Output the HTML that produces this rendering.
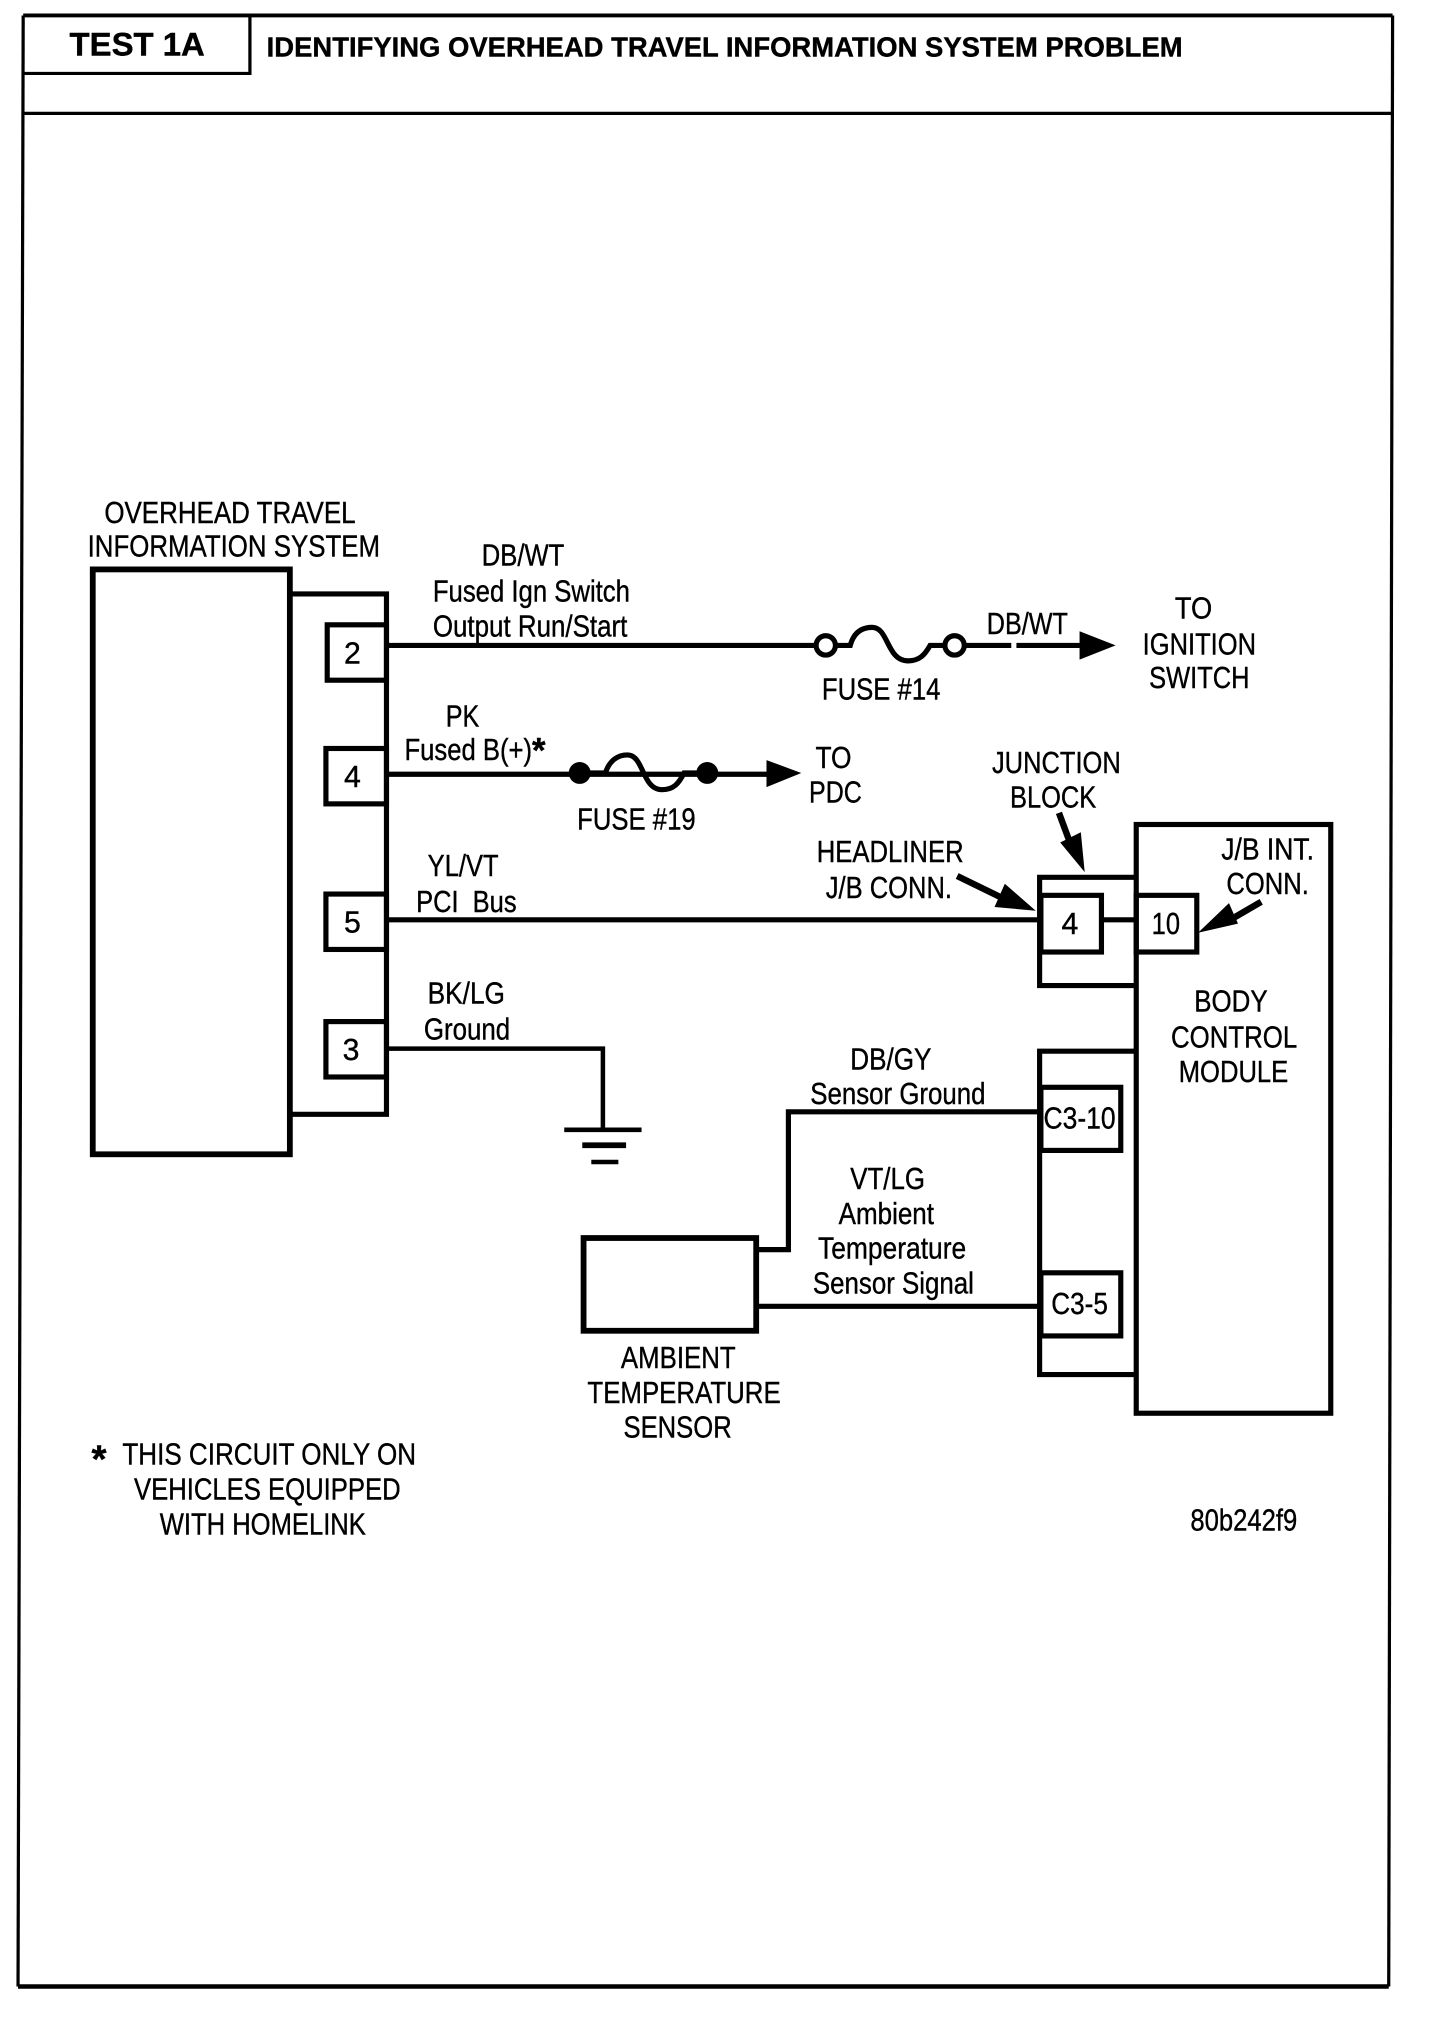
<!DOCTYPE html>
<html><head><meta charset="utf-8"><style>
html,body{margin:0;padding:0;background:#fff}
svg{display:block}
text{font-family:"Liberation Sans",sans-serif;font-size:23.5px;fill:#000;stroke:#000;stroke-width:.3px}
.b{font-weight:bold}
</style></head><body>
<svg width="1440" height="2020" viewBox="0 0 1117.8 1568" preserveAspectRatio="none" xmlns="http://www.w3.org/2000/svg">
<g fill="none" stroke="#000" stroke-width="4">
<path d="M18 12H1081" stroke-width="3"/>
<path d="M18 12L14 1542" stroke-width="2.5"/>
<path d="M1081 12L1078 1542" stroke-width="2.5"/>
<path d="M14 1542H1078" stroke-width="3.5"/>
<path d="M18 88H1081" stroke-width="2.5"/>
<path d="M18 57H194V12" stroke-width="2.5"/>
<rect x="72" y="442" width="153" height="454" stroke-width="4.5"/>
<path d="M225 461H300V865H225"/>
<rect x="254" y="485" width="46" height="43"/>
<rect x="253" y="581" width="47" height="43"/>
<rect x="253" y="694" width="47" height="43"/>
<rect x="253" y="793" width="47" height="43"/>
<path d="M300 501H634M748 501H785M789 501H840"/>
<path d="M649 501H660C663 490 670 487 677 487C690 487 688 513 705 513C714 513 718 508 722 501H733" stroke-width="4"/>
<circle cx="641" cy="501" r="7.5" fill="#fff" stroke-width="4"/>
<circle cx="741" cy="501" r="7.5" fill="#fff" stroke-width="4"/>
<path d="M300 601H600"/>
<path d="M458 600H470C473 590 480 586 487 586C500 586 498 613 514 613C523 613 527 608 531 600H541" stroke-width="4" />
<path d="M300 714H806"/>
<path d="M300 814H468V877" stroke-width="3.5"/>
<path d="M438 877H498" stroke-width="3.5"/>
<path d="M452 889H486" stroke-width="4.5"/>
<path d="M459 902H480" stroke-width="3.5"/>
<rect x="882" y="640" width="151" height="457"/>
<path d="M881 681H807V765H881"/>
<rect x="808" y="695" width="47" height="44"/>
<path d="M855 714H881"/>
<rect x="882" y="695" width="47" height="44"/>
<path d="M881 816H807V1067H881"/>
<rect x="808" y="844" width="62" height="49"/>
<rect x="808" y="988" width="62" height="49"/>
<path d="M807 863H612V970H587"/>
<path d="M587 1014H807"/>
<rect x="453" y="961" width="134" height="72" stroke-width="4.5"/>
<path d="M822 631L832 658" stroke-width="5"/>
<path d="M743 680L780 698" stroke-width="5"/>
<path d="M979 700L955 714" stroke-width="5"/>
</g>
<g fill="#000" stroke="none">
<circle cx="450" cy="600" r="8.5"/>
<circle cx="549" cy="600" r="8.5"/>
<polygon points="838,490 866,501 838,512"/>
<polygon points="595,590 622,600 595,611"/>
<polygon points="823,654 839,646 842,677"/>
<polygon points="780,686 772,704 804,707"/>
<polygon points="954,701 961,717 930,724"/>
</g>
<text class="b" x="54" y="43" textLength="105" lengthAdjust="spacingAndGlyphs" style="font-size:25px">TEST 1A</text>
<text class="b" x="207" y="44" textLength="711" lengthAdjust="spacingAndGlyphs" style="font-size:21.5px">IDENTIFYING OVERHEAD TRAVEL INFORMATION SYSTEM PROBLEM</text>
<text x="81" y="406" textLength="195" lengthAdjust="spacingAndGlyphs">OVERHEAD TRAVEL</text>
<text x="68" y="432" textLength="227" lengthAdjust="spacingAndGlyphs">INFORMATION SYSTEM</text>
<text x="374" y="439" textLength="64" lengthAdjust="spacingAndGlyphs">DB/WT</text>
<text x="336" y="467" textLength="153" lengthAdjust="spacingAndGlyphs">Fused Ign Switch</text>
<text x="336" y="494" textLength="151" lengthAdjust="spacingAndGlyphs">Output Run/Start</text>
<text x="267" y="515">2</text>
<text x="267" y="611">4</text>
<text x="267" y="724">5</text>
<text x="266" y="823">3</text>
<text x="638" y="543" textLength="92" lengthAdjust="spacingAndGlyphs">FUSE #14</text>
<text x="766" y="492" textLength="63" lengthAdjust="spacingAndGlyphs">DB/WT</text>
<text x="912" y="480" textLength="29" lengthAdjust="spacingAndGlyphs">TO</text>
<text x="887" y="508" textLength="88" lengthAdjust="spacingAndGlyphs">IGNITION</text>
<text x="892" y="534" textLength="78" lengthAdjust="spacingAndGlyphs">SWITCH</text>
<text x="346" y="564" textLength="26" lengthAdjust="spacingAndGlyphs">PK</text>
<text x="314" y="590" textLength="99" lengthAdjust="spacingAndGlyphs">Fused B(+)</text>
<text class="b" x="413" y="592" style="font-size:27px">*</text>
<text x="448" y="644" textLength="92" lengthAdjust="spacingAndGlyphs">FUSE #19</text>
<text x="633" y="596" textLength="28" lengthAdjust="spacingAndGlyphs">TO</text>
<text x="628" y="623" textLength="41" lengthAdjust="spacingAndGlyphs">PDC</text>
<text x="770" y="600" textLength="100" lengthAdjust="spacingAndGlyphs">JUNCTION</text>
<text x="784" y="627" textLength="67" lengthAdjust="spacingAndGlyphs">BLOCK</text>
<text x="634" y="669" textLength="114" lengthAdjust="spacingAndGlyphs">HEADLINER</text>
<text x="641" y="697" textLength="98" lengthAdjust="spacingAndGlyphs">J/B CONN.</text>
<text x="948" y="667" textLength="72" lengthAdjust="spacingAndGlyphs">J/B INT.</text>
<text x="952" y="694" textLength="64" lengthAdjust="spacingAndGlyphs">CONN.</text>
<text x="332" y="680" textLength="55" lengthAdjust="spacingAndGlyphs">YL/VT</text>
<text x="323" y="708" textLength="78" lengthAdjust="spacingAndGlyphs" xml:space="preserve">PCI  Bus</text>
<text x="824" y="725">4</text>
<text x="894" y="725" textLength="22" lengthAdjust="spacingAndGlyphs">10</text>
<text x="927" y="785" textLength="57" lengthAdjust="spacingAndGlyphs">BODY</text>
<text x="909" y="813" textLength="98" lengthAdjust="spacingAndGlyphs">CONTROL</text>
<text x="915" y="840" textLength="85" lengthAdjust="spacingAndGlyphs">MODULE</text>
<text x="332" y="779" textLength="60" lengthAdjust="spacingAndGlyphs">BK/LG</text>
<text x="329" y="807" textLength="67" lengthAdjust="spacingAndGlyphs">Ground</text>
<text x="660" y="830" textLength="63" lengthAdjust="spacingAndGlyphs">DB/GY</text>
<text x="629" y="857" textLength="136" lengthAdjust="spacingAndGlyphs">Sensor Ground</text>
<text x="810" y="876" textLength="56" lengthAdjust="spacingAndGlyphs">C3-10</text>
<text x="816" y="1020" textLength="44" lengthAdjust="spacingAndGlyphs">C3-5</text>
<text x="660" y="923" textLength="58" lengthAdjust="spacingAndGlyphs">VT/LG</text>
<text x="651" y="950" textLength="74" lengthAdjust="spacingAndGlyphs">Ambient</text>
<text x="635" y="977" textLength="115" lengthAdjust="spacingAndGlyphs">Temperature</text>
<text x="631" y="1004" textLength="125" lengthAdjust="spacingAndGlyphs">Sensor Signal</text>
<text x="482" y="1062" textLength="89" lengthAdjust="spacingAndGlyphs">AMBIENT</text>
<text x="456" y="1089" textLength="150" lengthAdjust="spacingAndGlyphs">TEMPERATURE</text>
<text x="484" y="1116" textLength="84" lengthAdjust="spacingAndGlyphs">SENSOR</text>
<text class="b" x="71" y="1143" style="font-size:30px">*</text>
<text x="95" y="1137" textLength="228" lengthAdjust="spacingAndGlyphs">THIS CIRCUIT ONLY ON</text>
<text x="104" y="1164" textLength="207" lengthAdjust="spacingAndGlyphs">VEHICLES EQUIPPED</text>
<text x="124" y="1191" textLength="160" lengthAdjust="spacingAndGlyphs">WITH HOMELINK</text>
<text x="924" y="1188" textLength="83" lengthAdjust="spacingAndGlyphs">80b242f9</text>
</svg>
</body></html>
